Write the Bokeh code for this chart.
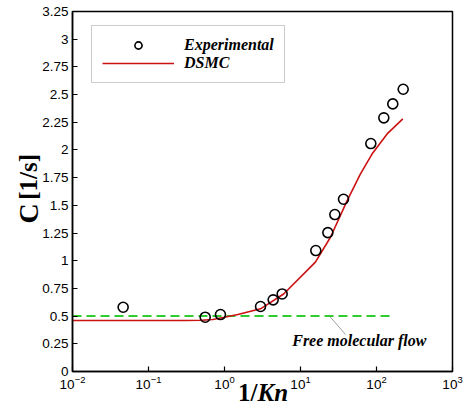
import math
from bokeh.plotting import figure
from bokeh.models import (Range1d, FixedTicker, NumeralTickFormatter, Label, Legend,
                          LegendItem, LogTicker)
from bokeh.core.properties import value
from bokeh.embed import file_html
from bokeh.resources import INLINE

# Experimental data
exp_inv_kn = [0.0464, 0.557, 0.885, 2.98, 4.37, 5.74, 15.9, 22.9, 28.3, 36.8, 84.2, 124.8, 163.8, 224.5]
exp_c = [0.58, 0.49, 0.514, 0.587, 0.647, 0.70, 1.092, 1.254, 1.417, 1.555, 2.058, 2.29, 2.416, 2.548]

# DSMC curve
dsmc_inv_kn = [0.01, 0.05, 0.15, 0.3, 0.5, 0.7, 1.0, 1.5, 2.98, 6.0, 15.7, 24.8, 41.1, 61.5, 87.7, 138.0, 222.0]
dsmc_c = [0.46, 0.46, 0.46, 0.46, 0.462, 0.47, 0.49, 0.515, 0.566, 0.70, 0.987, 1.212, 1.543, 1.784, 1.965, 2.145, 2.28]

# Free molecular flow limit
fm_inv_kn = [0.01, 166.0]
fm_c = [0.5, 0.5]

y_ticks = [0, 0.25, 0.5, 0.75, 1, 1.25, 1.5, 1.75, 2, 2.25, 2.5, 2.75, 3, 3.25]

p = figure(width=464, height=412, x_axis_type="log", output_backend="svg",
           toolbar_location=None, x_range=Range1d(0.01, 1000), y_range=Range1d(0, 3.25),
           min_border_left=72, min_border_right=12, min_border_top=11, min_border_bottom=41)
p.background_fill_color = "white"
p.border_fill_color = "white"
p.xgrid.visible = False
p.ygrid.visible = False
p.outline_line_color = "black"
p.outline_line_width = 1.5
p.outline_line_alpha = 1

for ax in (p.xaxis[0], p.yaxis[0]):
    ax.axis_line_color = "black"
    ax.axis_line_width = 1.5
    ax.major_tick_line_color = "black"
    ax.major_tick_line_width = 1.2
    ax.major_tick_in = 5
    ax.major_tick_out = 0
    ax.minor_tick_in = 0
    ax.minor_tick_out = 0
    ax.minor_tick_line_color = None
    ax.major_label_text_font = "Liberation Sans"
    ax.major_label_text_font_size = "13.5px"
    ax.major_label_text_color = "black"
    ax.major_label_standoff = 4

p.yaxis[0].ticker = FixedTicker(ticks=y_ticks)
p.yaxis[0].formatter = NumeralTickFormatter(format="0.[00]")
p.xaxis[0].ticker = LogTicker(num_minor_ticks=0)

fm = p.line(fm_inv_kn, fm_c, line_color="#2ecc2e", line_width=2, line_dash="9 5")
dsmc = p.line(dsmc_inv_kn, dsmc_c, line_color="#cc1111", line_width=1.6)
exp = p.scatter(exp_inv_kn, exp_c, marker="circle", size=10, fill_color=None,
                line_color="black", line_width=1.6)

legend = Legend(items=[LegendItem(label="Experimental", renderers=[exp]),
                       LegendItem(label="DSMC", renderers=[dsmc])],
                location=(19, 288), orientation="vertical")
legend.label_text_font = "Liberation Serif"
legend.label_text_font_style = "bold italic"
legend.label_text_font_size = "16px"
legend.label_text_color = "black"
legend.glyph_width = 72
legend.glyph_height = 18
legend.label_height = 18
legend.label_standoff = 10
legend.padding = 10
legend.spacing = 0
legend.margin = 0
legend.border_line_color = "#999999"
legend.border_line_width = 1
legend.background_fill_color = "white"
p.add_layout(legend, "center")

# annotation with leader line
p.line([24.1, 39.1], [0.5, 0.334], line_color="#888888", line_width=0.8)
p.add_layout(Label(x=7.78, y=0.28, text="Free molecular flow", text_font="Liberation Serif",
                   text_font_style="bold italic", text_font_size="16px", text_color="black",
                   text_baseline="middle", text_align="left"))

# axis titles as text glyphs on the overlay level
serif = value("Liberation Serif")
p.text(x=[2.72], y=[-0.19], text=["1/"], text_font=serif, text_font_style="bold",
       text_font_size="25px", text_color="black", text_align="right",
       text_baseline="alphabetic", level="overlay")
p.text(x=[2.72], y=[-0.19], text=["Kn"], text_font=serif, text_font_style="bold italic",
       text_font_size="25px", text_color="black", text_align="left",
       text_baseline="alphabetic", level="overlay")
p.text(x=[0.00263], y=[1.336], text=["C"], text_font=serif, text_font_style="bold",
       text_font_size="28px", text_color="black", text_align="left",
       text_baseline="alphabetic", angle=math.pi / 2, level="overlay")
p.text(x=[0.00263], y=[1.55], text=["[1/s]"], text_font=serif, text_font_style="bold",
       text_font_size="25px", text_color="black", text_align="left",
       text_baseline="alphabetic", angle=math.pi / 2, level="overlay")

open("out.html", "w").write(file_html(p, INLINE))
